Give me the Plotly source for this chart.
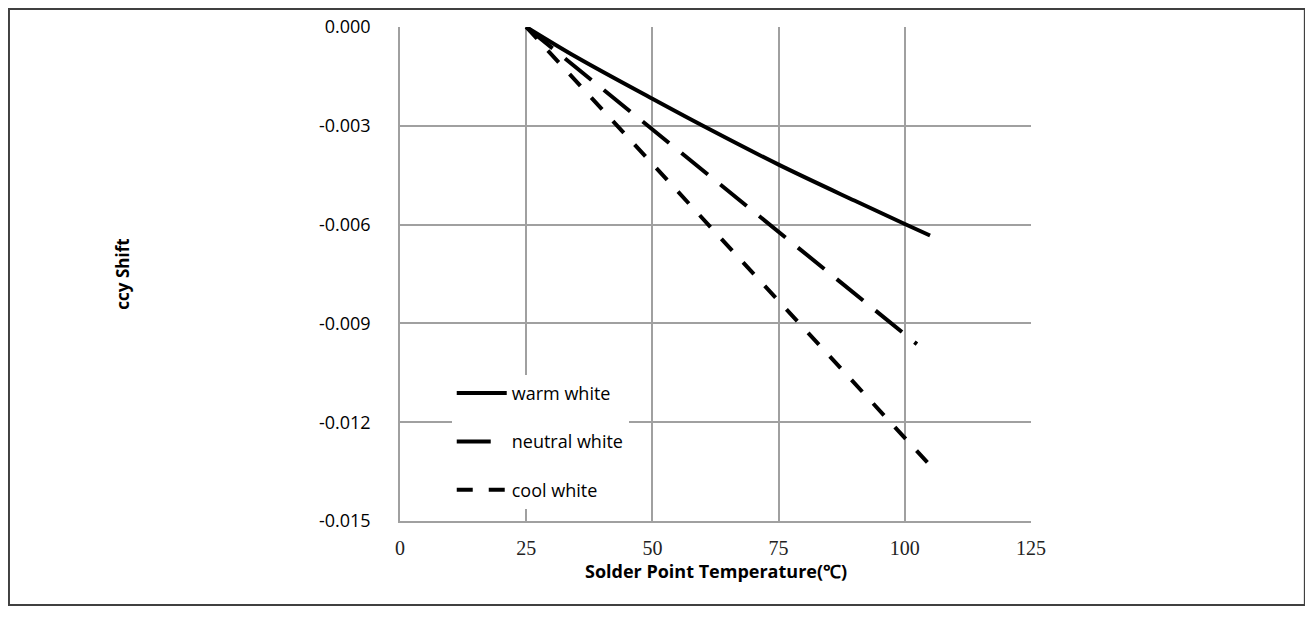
import plotly.graph_objects as go

# solder point temperature (degC) and ccy shift
warm_t = [25, 35, 50, 60, 75, 90, 100, 105]
warm_y = [0.0, -0.00092, -0.00218, -0.00300, -0.00418, -0.00527, -0.00598, -0.00633]

neutral_t = [25, 50, 75, 102.4]
neutral_y = [0.0, -0.00310, -0.00620, -0.00963]

cool_t = [25, 43, 75, 104.6]
cool_y = [0.0, -0.00300, -0.00834, -0.01324]

x_ticks = [0, 25, 50, 75, 100, 125]
y_ticks = [0.0, -0.003, -0.006, -0.009, -0.012, -0.015]
y_labels = ["0.000", "-0.003", "-0.006", "-0.009", "-0.012", "-0.015"]

GRID = "#a0a0a0"
SANS = "Open Sans"

fig = go.Figure()
fig.add_trace(go.Scatter(x=warm_t, y=warm_y, mode="lines", name="warm white",
                         line=dict(color="black", width=4, shape="spline"),
                         legendgroup="a"))
fig.add_trace(go.Scatter(x=neutral_t, y=neutral_y, mode="lines", name="neutral white",
                         line=dict(color="black", width=4, dash="34px,16px"),
                         legendgroup="b"))
fig.add_trace(go.Scatter(x=cool_t, y=cool_y, mode="lines", name="cool white",
                         line=dict(color="black", width=4, dash="16px,16px"),
                         legendgroup="c"))

fig.update_xaxes(
    range=[0, 125], tickvals=x_ticks, showgrid=True, gridcolor=GRID, gridwidth=1.5,
    showline=True, linecolor=GRID, linewidth=1.5, zeroline=False, ticks="",
    ticklabelstandoff=8,
    tickfont=dict(family="Liberation Serif", size=20, color="#222"),
)
fig.update_yaxes(
    range=[-0.015, 0], tickvals=y_ticks, ticktext=y_labels, showgrid=True,
    gridcolor=GRID, gridwidth=1.5, showline=True, linecolor=GRID, linewidth=1.5,
    zeroline=False, ticks="", ticklabelstandoff=24,
    tickfont=dict(family=SANS, size=18, color="black"),
    title=dict(text="<b>ccy Shift</b>", standoff=185,
               font=dict(family=SANS, size=17, color="black")),
)

# page body adds an 8px offset, so margins are trimmed by 8
fig.update_layout(
    width=1313, height=620,
    margin=dict(l=392, r=290, t=19, b=107, autoexpand=False),
    paper_bgcolor="white", plot_bgcolor="white",
    legend=dict(x=0.082, y=0.296, xanchor="left", yanchor="top",
                bgcolor="white", tracegroupgap=22, itemwidth=50,
                font=dict(family=SANS, size=18, color="black")),
    annotations=[dict(text="<b>Solder Point Temperature(℃)</b>", xref="paper",
                      yref="paper", x=0.5, y=-0.101, yanchor="middle",
                      showarrow=False,
                      font=dict(family=SANS, size=18, color="black"))],
    shapes=[dict(type="rect", xref="paper", yref="paper",
                 x0=-0.6197, x1=1.434, y0=-0.170, y1=1.0364,
                 line=dict(color="#404040", width=2), layer="below")],
)

fig.write_html("out.html")
